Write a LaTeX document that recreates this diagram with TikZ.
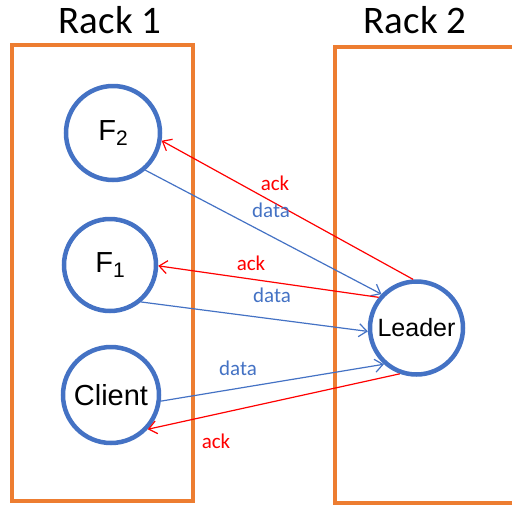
\documentclass[tikz,border=0pt]{standalone}
\usepackage{fontspec}
\setmainfont{Liberation Sans}
\newfontfamily\calib{Carlito}
\usetikzlibrary{arrows.meta}
\definecolor{obox}{HTML}{ED7D31}
\definecolor{oblue}{HTML}{4472C4}
\definecolor{ored}{HTML}{FF0000}
\tikzset{
  rackbox/.style={draw=obox, line width=3.5pt},
  proc/.style={circle, draw=oblue, line width=4.5pt, fill=white, minimum size=#1, inner sep=0pt},
  racklabel/.style={font=\calib\fontsize{39}{40}\selectfont, inner sep=0pt},
  datalbl/.style={text=oblue, font=\calib\fontsize{21}{22}\selectfont, inner sep=0pt},
  acklbl/.style={text=ored, font=\calib\fontsize{21}{22}\selectfont, inner sep=0pt},
  tip/.style={-{Straight Barb[length=8pt,width=13pt,line width=1.2pt]}},
  dataarr/.style={tip, draw=oblue, line width=1.2pt},
  ackarr/.style={tip, draw=ored, line width=1.2pt},
}
\begin{document}
\begin{tikzpicture}[x=1pt,y=-1pt]
\useasboundingbox (0,0) rectangle (512,504);
\clip (0,0) rectangle (512,504);
\draw[rackbox] (12,45) rectangle (193,501);
\draw[rackbox] (335,47) rectangle (540,503);
\node[racklabel] (r1) at (110,20) {Rack 1};
\node[racklabel] (r2) at (415,20) {Rack 2};

\node[proc=94pt, font=\fontsize{29}{30}\selectfont] (F2) at (113,133) {F\raisebox{-0.35ex}{\fontsize{21}{22}\selectfont 2}};
\node[proc=92pt, font=\fontsize{29}{30}\selectfont] (F1) at (110,265) {F\raisebox{-0.35ex}{\fontsize{21}{22}\selectfont 1}};
\node[proc=96pt, font=\fontsize{29}{30}\selectfont] (C) at (111,395) {Client};
\node[proc=93pt, font=\fontsize{25}{26}\selectfont] (L) at (416.5,328) {Leader};

\draw[ackarr] (L.94) -- (F2.-9);
\draw[dataarr] (F2.-49) -- (L.136);
\draw[ackarr] (L.141) -- (F1.-1);
\draw[dataarr] (F1.-50) -- (L.184);
\draw[dataarr] (C.-7) -- (L.228);
\draw[ackarr] (L.250) -- (C.-43);

\node[acklbl] (a1) at (275,183) {ack};
\node[datalbl] (d1) at (271,210) {data};
\node[acklbl] (a2) at (251,263) {ack};
\node[datalbl] (d2) at (272,295) {data};
\node[datalbl] (d3) at (238,368) {data};
\node[acklbl] (a3) at (216,441) {ack};
\end{tikzpicture}
\end{document}
